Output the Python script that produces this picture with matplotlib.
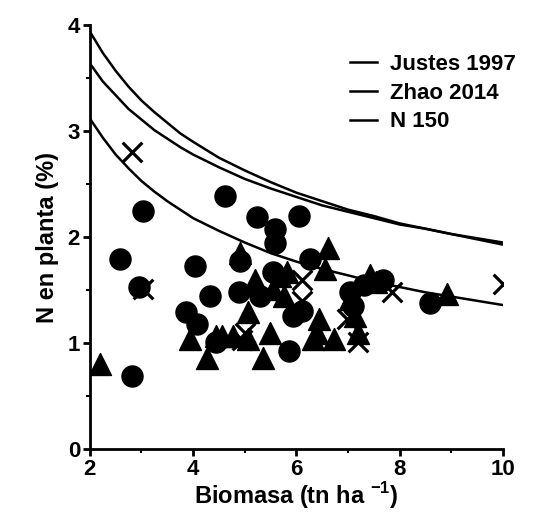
import matplotlib
matplotlib.use("Agg")
import matplotlib.pyplot as plt
from matplotlib.ticker import MultipleLocator

# Curves
curve_x = [2, 2.25, 2.5, 2.75, 3, 3.25, 3.5, 3.75, 4, 4.5, 5, 5.5, 6, 6.5, 7, 7.5,
           8, 8.5, 9, 9.5, 10]
justes_y = [3.94, 3.74, 3.57, 3.42, 3.29, 3.18, 3.08, 2.98, 2.90, 2.75, 2.63, 2.52,
            2.42, 2.34, 2.26, 2.20, 2.13, 2.08, 2.03, 1.98, 1.93]
zhao_y = [3.64, 3.47, 3.34, 3.21, 3.11, 3.01, 2.93, 2.85, 2.78, 2.66, 2.55, 2.46,
          2.38, 2.30, 2.24, 2.18, 2.12, 2.08, 2.03, 1.99, 1.95]
n150_y = [3.12, 2.94, 2.78, 2.65, 2.53, 2.43, 2.34, 2.26, 2.18, 2.06, 1.95, 1.85,
          1.77, 1.70, 1.64, 1.58, 1.53, 1.48, 1.44, 1.40, 1.36]

# Observations
circ_x = [4.62, 3.02, 5.23, 6.04, 5.59, 5.59, 2.59, 4.03, 4.91, 6.26, 4.33, 4.89,
          3.87, 4.07, 4.45, 5.94, 5.86, 2.81, 8.59, 7.04, 7.68, 5.55, 7.1, 2.95,
          5.3, 7.3, 6.1]
circ_y = [2.39, 2.25, 2.19, 2.20, 2.08, 1.95, 1.79, 1.73, 1.78, 1.79, 1.45, 1.48,
          1.29, 1.18, 1.01, 1.26, 0.93, 0.69, 1.38, 1.48, 1.60, 1.67, 1.35, 1.53,
          1.45, 1.55, 1.30]
tri_x = [2.19, 3.94, 4.26, 5.36, 5.49, 4.55, 4.78, 5.07, 5.07, 5.2, 4.91, 5.55,
         5.68, 5.81, 6.43, 6.40, 6.72, 6.62, 6.55, 7.20, 7.14, 7.43, 8.91, 7.04,
         6.33, 4.45, 5.75, 7.55]
tri_y = [0.80, 1.04, 0.86, 0.86, 1.10, 1.07, 1.07, 1.04, 1.29, 1.60, 1.85, 1.51,
         1.63, 1.67, 1.23, 1.10, 1.04, 1.90, 1.70, 1.10, 1.26, 1.64, 1.46, 1.42,
         1.04, 1.07, 1.45, 1.58]
cross_x = [2.81, 3.03, 6.10, 6.10, 7.20, 6.97, 10.0, 7.85, 5.00, 4.95]
cross_y = [2.80, 1.51, 1.60, 1.40, 1.01, 1.23, 1.56, 1.48, 1.10, 1.03]

plt.rcParams['font.family'] = ['Liberation Sans', 'DejaVu Sans']
plt.rcParams['font.weight'] = 'bold'
plt.rcParams['mathtext.fontset'] = 'custom'
plt.rcParams['mathtext.rm'] = 'Liberation Sans:bold'
plt.rcParams['mathtext.bf'] = 'Liberation Sans:bold'

fig = plt.figure(figsize=(5.38, 5.26), dpi=100)
ax = fig.add_axes([0.167, 0.146, 0.768, 0.806])

ax.plot(curve_x, justes_y, color='black', lw=1.8, label='Justes 1997')
ax.plot(curve_x, zhao_y, color='black', lw=1.8, label='Zhao 2014')
ax.plot(curve_x, n150_y, color='black', lw=1.8, label='N 150')

ax.scatter(circ_x, circ_y, s=230, marker='o', color='black', zorder=3)
ax.scatter(tri_x, tri_y, s=250, marker='^', color='black', zorder=3)
ax.scatter(cross_x, cross_y, s=200, marker='x', color='black', linewidths=2.3, zorder=4)

ax.set_xlim(2, 10)
ax.set_ylim(0, 4)
ax.xaxis.set_major_locator(MultipleLocator(2))
ax.xaxis.set_minor_locator(MultipleLocator(1))
ax.yaxis.set_major_locator(MultipleLocator(1))
ax.yaxis.set_minor_locator(MultipleLocator(0.5))

for side in ['top', 'right']:
    ax.spines[side].set_visible(False)
for side in ['left', 'bottom']:
    ax.spines[side].set_linewidth(2)

ax.tick_params(which='major', length=5, width=2, labelsize=16, pad=2)
ax.tick_params(which='minor', length=3, width=1.5)

ax.set_xlabel('Biomasa (tn ha $^{\\mathbf{-1}}$)', fontsize=17, fontweight='bold', labelpad=0)
ax.set_ylabel('N en planta (%)', fontsize=17, fontweight='bold', labelpad=6)

ax.legend(loc='upper right', bbox_to_anchor=(1.08, 0.98), frameon=False,
          fontsize=16, handlelength=1.2, handletextpad=0.6, labelspacing=0.35)

fig.savefig('out.png', dpi=100)
